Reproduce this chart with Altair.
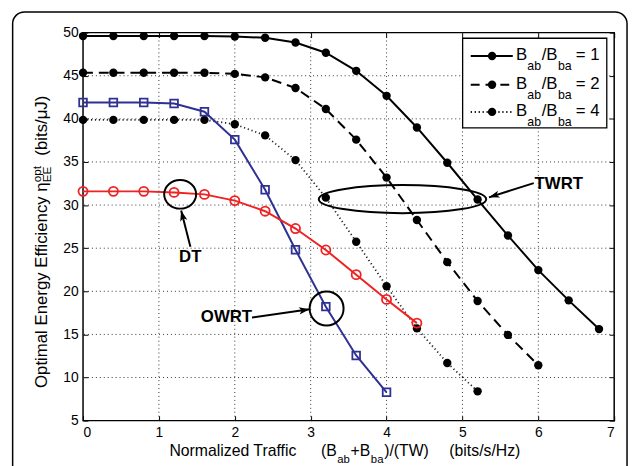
import math
import altair as alt
import pandas as pd

FONT = "Liberation Sans"

# ---------------- data ----------------
x_ratio1 = [0, 0.4, 0.8, 1.2, 1.6, 2.0, 2.4, 2.8, 3.2, 3.6, 4.0, 4.4, 4.8, 5.2, 5.6, 6.0, 6.4, 6.8]
y_ratio1 = [49.6, 49.6, 49.6, 49.6, 49.6, 49.55, 49.4, 48.85, 47.67, 45.57, 42.67, 39.0, 34.91, 30.64, 26.47, 22.46, 18.95, 15.62]

x_ratio2 = [0, 0.4, 0.8, 1.2, 1.6, 2.0, 2.4, 2.8, 3.2, 3.6, 4.0, 4.4, 4.8, 5.2, 5.6, 6.0]
y_ratio2 = [45.35, 45.35, 45.35, 45.35, 45.35, 45.22, 44.81, 43.58, 41.14, 37.59, 33.19, 28.27, 23.38, 18.87, 14.94, 11.42]

x_ratio4 = [0, 0.4, 0.8, 1.2, 1.6, 2.0, 2.4, 2.8, 3.2, 3.6, 4.0, 4.4, 4.8, 5.2]
y_ratio4 = [39.88, 39.88, 39.88, 39.88, 39.88, 39.38, 38.08, 35.22, 30.86, 25.75, 20.59, 15.7, 11.69, 8.4]

x_dt = [0, 0.4, 0.8, 1.2, 1.6, 2.0, 2.4, 2.8, 3.2, 3.6, 4.0, 4.4]
y_dt = [31.59, 31.59, 31.59, 31.47, 31.24, 30.52, 29.29, 27.28, 24.79, 21.93, 19.06, 16.31]

x_owrt = [0, 0.4, 0.8, 1.2, 1.6, 2.0, 2.4, 2.8, 3.2, 3.6, 4.0]
y_owrt = [41.9, 41.9, 41.9, 41.78, 40.83, 37.59, 31.78, 24.82, 18.22, 12.56, 8.29]

x_ticks = [0, 1, 2, 3, 4, 5, 6, 7]
y_ticks = [5, 10, 15, 20, 25, 30, 35, 40, 45, 50]

# annotations (data coordinates)
ann_label = ["DT", "OWRT", "TWRT"]
ann_label_x = [1.413, 1.89, 6.27]
ann_label_y = [24.0, 16.96, 32.43]
arrow_tail_x = [1.415, 2.227, 5.94]
arrow_tail_y = [25.17, 16.96, 32.55]
arrow_head_x = [1.293, 2.986, 5.35]
arrow_head_y = [29.37, 17.91, 30.9]
ring_x = [1.28, 3.21, 4.21]
ring_y = [31.25, 18.0, 30.69]
ring_rx = [16.2, 17.2, 84.8]   # pixels
ring_ry = [14.5, 17.2, 14.2]   # pixels

legend_labels = ["1", "2", "4"]

# ---------------- layout ----------------
W, H = 538, 393
XDOM, YDOM = [0, 7], [5, 50]
PX_X, PX_Y = W / (XDOM[1] - XDOM[0]), H / (YDOM[1] - YDOM[0])

one = pd.DataFrame({"a": [0]})

xaxis = alt.Axis(values=x_ticks, format="d", offset=-5, tickSize=5, domain=False, grid=False,
                 labelPadding=5, labelFontSize=14, labelFont=FONT, labelColor="black",
                 tickColor="black", tickWidth=1)
yaxis = alt.Axis(values=y_ticks, format="d", offset=-5, tickSize=5, domain=False, grid=False,
                 labelPadding=5, labelFontSize=14, labelFont=FONT, labelColor="black",
                 tickColor="black", tickWidth=1)
xsc = alt.Scale(domain=XDOM, nice=False, zero=False)
ysc = alt.Scale(domain=YDOM, nice=False, zero=False)


def X(field="x"):
    return alt.X(f"{field}:Q", scale=xsc, axis=xaxis, title=None)


def Y(field="y"):
    return alt.Y(f"{field}:Q", scale=ysc, axis=yaxis, title=None)


layers = []

# grid
gx = pd.DataFrame({"x": x_ticks[1:-1]})
gy = pd.DataFrame({"y": y_ticks[1:-1]})
layers.append(alt.Chart(gx).mark_rule(color="#333333", strokeWidth=1, strokeDash=[1, 3]).encode(x=X()))
layers.append(alt.Chart(gy).mark_rule(color="#333333", strokeWidth=1, strokeDash=[1, 3]).encode(y=Y()))

series = [
    (x_ratio1, y_ratio1, dict(color="black", strokeWidth=2), dict(shape="circle", filled=True, color="black", size=72)),
    (x_ratio2, y_ratio2, dict(color="black", strokeWidth=2, strokeDash=[10, 6]), dict(shape="circle", filled=True, color="black", size=72)),
    (x_ratio4, y_ratio4, dict(color="#222222", strokeWidth=1.8, strokeDash=[1.2, 2.8]), dict(shape="circle", filled=True, color="black", size=72)),
    (x_owrt, y_owrt, dict(color="#2E3192", strokeWidth=2), dict(shape="square", filled=False, color="#2E3192", size=60, strokeWidth=1.8)),
    (x_dt, y_dt, dict(color="#EE2222", strokeWidth=2), dict(shape="circle", filled=False, color="#EE2222", size=85, strokeWidth=1.8)),
]
for xs, ys, lstyle, pstyle in series:
    df = pd.DataFrame({"x": xs, "y": ys})
    layers.append(alt.Chart(df).mark_line(**lstyle).encode(x=X(), y=Y()))
    layers.append(alt.Chart(df).mark_point(opacity=1, **pstyle).encode(x=X(), y=Y()))


# annotation rings (ellipses)
def ellipse_path(ry):
    k = 0.5523
    return (f"M1,0 C1,{k*ry:.4f} {k:.4f},{ry:.4f} 0,{ry:.4f} "
            f"C{-k:.4f},{ry:.4f} -1,{k*ry:.4f} -1,0 "
            f"C-1,{-k*ry:.4f} {-k:.4f},{-ry:.4f} 0,{-ry:.4f} "
            f"C{k:.4f},{-ry:.4f} 1,{-k*ry:.4f} 1,0 Z")


for cx, cy, rx, ry in zip(ring_x, ring_y, ring_rx, ring_ry):
    df = pd.DataFrame({"x": [cx], "y": [cy]})
    layers.append(alt.Chart(df).mark_point(shape=ellipse_path(ry / rx), size=(2 * rx) ** 2, filled=False,
                                           color="black", strokeWidth=2, opacity=1).encode(x=X(), y=Y()))

# arrows
angles = []
for tx, ty, hx, hy in zip(arrow_tail_x, arrow_tail_y, arrow_head_x, arrow_head_y):
    dx = (hx - tx) * PX_X
    dy = -(hy - ty) * PX_Y
    angles.append(math.degrees(math.atan2(dx, -dy)) % 360)
arr = pd.DataFrame({"x": arrow_tail_x, "y": arrow_tail_y, "x2": arrow_head_x, "y2": arrow_head_y,
                    "hx": arrow_head_x, "hy": arrow_head_y, "ang": angles})
layers.append(alt.Chart(arr).mark_rule(color="black", strokeWidth=2).encode(
    x=X(), y=Y(), x2="x2:Q", y2="y2:Q"))
layers.append(alt.Chart(arr).mark_point(shape="M0,0 L0.55,1.6 L0,1.2 L-0.55,1.6 Z", size=180, filled=True,
                                        color="black", opacity=1).encode(
    x=X("hx"), y=Y("hy"), angle=alt.Angle("ang:Q", scale=None)))

lab = pd.DataFrame({"x": ann_label_x, "y": ann_label_y, "t": ann_label})
layers.append(alt.Chart(lab).mark_text(font=FONT, fontSize=17, fontWeight="bold", color="black",
                                       baseline="middle", align="center").encode(x=X(), y=Y(), text="t:N"))


# ---------------- custom text helpers ----------------
def txt(s, x, y, size, align="left", angle=0, weight="normal"):
    return alt.Chart(one).mark_text(text=s, font=FONT, fontSize=size, align=align, baseline="alphabetic",
                                    angle=angle, fontWeight=weight, color="black").encode(
        x=alt.value(x), y=alt.value(y))


# legend box
layers.append(alt.Chart(one).mark_rect(fill="white", stroke="black", strokeWidth=1.3).encode(
    x=alt.value(384.5), x2=alt.value(530.5), y=alt.value(5.7), y2=alt.value(96.5)))
rows = [23.7, 52.8, 80.3]
dashes = [None, [9, 6], [1.2, 2.8]]
for r, d, lbl in zip(rows, dashes, legend_labels):
    kw = dict(color="black", strokeWidth=2)
    if d is not None:
        kw["strokeDash"] = d
    layers.append(alt.Chart(one).mark_rule(**kw).encode(
        x=alt.value(392.7), x2=alt.value(435.3), y=alt.value(r)))
    layers.append(alt.Chart(one).mark_point(shape="circle", filled=True, color="black", size=72, opacity=1).encode(
        x=alt.value(414.3), y=alt.value(r)))
    layers.append(txt("B", 438.5, r + 4.5, 17))
    layers.append(txt("ab", 450, r + 14, 12.5))
    layers.append(txt("/B", 464.5, r + 4.5, 17))
    layers.append(txt("ba", 481, r + 14, 12.5))
    layers.append(txt("= " + lbl, 499, r + 4.5, 17))

# x title
XB = 429
layers.append(txt("Normalized Traffic", 87.5, XB, 16))
layers.append(txt("(B", 241, XB, 16))
layers.append(txt("ab", 257.5, XB + 6.7, 11.5))
layers.append(txt("+B", 271, XB, 16))
layers.append(txt("ba", 291.5, XB + 6.7, 11.5))
layers.append(txt(")/(TW)", 305, XB, 16))
layers.append(txt("(bits/s/Hz)", 371, XB, 16))

# y title (rotated)
YX = -36
YJ = 151.6
layers.append(txt("Optimal Energy Efficiency  \u03b7", YX, YJ, 17, align="right", angle=270))
layers.append(txt("opt", YX - 7, YJ, 12, align="left", angle=270))
layers.append(txt("EE", YX + 3.5, YJ, 12, align="left", angle=270))
layers.append(txt("(bits/\u03bcJ)", YX, YJ - 27, 17, align="left", angle=270))

# outer rounded frame
layers.append(alt.Chart(one).mark_rect(fill=None, stroke="black", strokeWidth=1.5, cornerRadius=12).encode(
    x=alt.value(-71.3), x2=alt.value(551), y=alt.value(-21), y2=alt.value(460)))

main = alt.layer(*layers)

# top / right inward ticks
tk = pd.DataFrame({"x": [0, 7], "y": [5, 50]})
top_axis = alt.Axis(orient="top", values=x_ticks, offset=-5, tickSize=5, domain=False, grid=False,
                    labels=False, tickColor="black", tickWidth=1)
right_axis = alt.Axis(orient="right", values=y_ticks, offset=-5, tickSize=5, domain=False, grid=False,
                      labels=False, tickColor="black", tickWidth=1)
ticks = alt.Chart(tk).mark_point(opacity=0).encode(
    x=alt.X("x:Q", scale=alt.Scale(domain=XDOM, nice=False, zero=False), axis=top_axis, title=None),
    y=alt.Y("y:Q", scale=alt.Scale(domain=YDOM, nice=False, zero=False), axis=right_axis, title=None))

chart = alt.layer(main, ticks).resolve_scale(x="independent", y="independent").properties(
    width=W, height=H,
    padding={"left": 76, "top": 22, "right": 15, "bottom": 43},
    autosize=alt.AutoSizeParams(type="none"),
    background="white",
).configure_view(stroke="black", strokeWidth=1.5)

chart.save("out.html", embed_options={"renderer": "svg", "actions": False})
